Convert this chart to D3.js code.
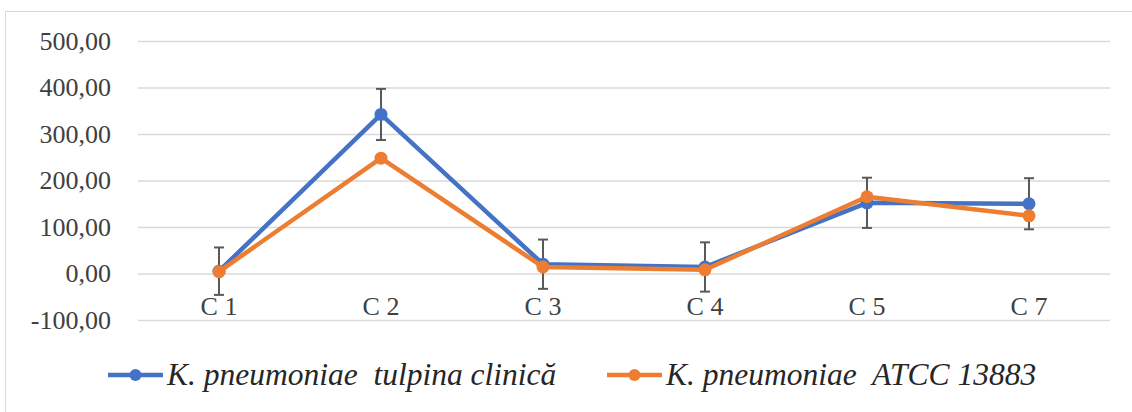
<!DOCTYPE html>
<html>
<head>
<meta charset="utf-8">
<script src="https://cdn.jsdelivr.net/npm/d3@7"></script>
<style>
  html, body { margin: 0; padding: 0; background: #fff; }
  svg { display: block; }
</style>
</head>
<body>
<svg id="chart" width="1132" height="412"></svg>
<script>
// ── Data ──
const categories = ["C 1", "C 2", "C 3", "C 4", "C 5", "C 7"];
const clinical   = [5, 342, 20, 14, 152, 150];     // K. pneumoniae tulpina clinică
const atcc       = [4, 248, 14, 8, 165, 124];      // K. pneumoniae ATCC 13883
const errClinical = [51, 55, 53, 53, 54, 55];
const yTicks = [-100, 0, 100, 200, 300, 400, 500];

const seriesNames = ["K. pneumoniae  tulpina clinică", "K. pneumoniae  ATCC 13883"];
const BLUE = "#4472c4";
const ORANGE = "#ed7d31";
const SERIF = "'Liberation Serif', 'Times New Roman', Times, 'DejaVu Serif', serif";

const LEFT = 138, RIGHT = 1110, TOP = 41, BOTTOM = 320;

const svg = d3.select("#chart");

// frame
svg.append("rect")
  .attr("x", 5.5).attr("y", 11.5)
  .attr("width", 1140).attr("height", 420)
  .attr("fill", "none")
  .attr("stroke", "#d9d9d9")
  .attr("stroke-width", 1);

const x = d3.scaleBand().domain(categories).range([LEFT, RIGHT]);
const y = d3.scaleLinear().domain([-100, 500]).range([BOTTOM, TOP]);

// ── Gridlines ──
svg.append("g")
  .selectAll("line")
  .data(yTicks)
  .join("line")
  .attr("x1", LEFT).attr("x2", RIGHT)
  .attr("y1", d => y(d) + 0.5).attr("y2", d => y(d) + 0.5)
  .attr("stroke", "#d9d9d9")
  .attr("stroke-width", 1.5);

// ── Y tick labels ──
const fmt = d => d.toFixed(2).replace(".", ",");
svg.append("g")
  .selectAll("text")
  .data(yTicks)
  .join("text")
  .attr("font-family", SERIF)
  .attr("font-size", 26)
  .attr("fill", "#404040")
  .attr("x", 111)
  .attr("y", d => y(d))
  .attr("dy", "0.33em")
  .attr("text-anchor", "end")
  .text(fmt);

// ── Category labels (just under the zero line) ──
svg.append("g")
  .selectAll("text")
  .data(categories)
  .join("text")
  .attr("font-family", SERIF)
  .attr("font-size", 26)
  .attr("fill", "#404040")
  .attr("x", d => x(d) + x.bandwidth() / 2)
  .attr("y", y(0) + 41)
  .attr("text-anchor", "middle")
  .text(d => d);

const cx = c => x(c) + x.bandwidth() / 2;
const line = d3.line().x((d, i) => cx(categories[i])).y(d => y(d));

// ── Error bars (clinical series) ──
const eb = svg.append("g").attr("stroke", "#595959").attr("stroke-width", 2);
clinical.forEach((v, i) => {
  const px = cx(categories[i]);
  const e = errClinical[i];
  eb.append("line").attr("x1", px).attr("x2", px).attr("y1", y(v + e)).attr("y2", y(v - e));
  eb.append("line").attr("x1", px - 5).attr("x2", px + 5).attr("y1", y(v + e)).attr("y2", y(v + e));
  eb.append("line").attr("x1", px - 5).attr("x2", px + 5).attr("y1", y(v - e)).attr("y2", y(v - e));
});

// ── Series ──
[[clinical, BLUE], [atcc, ORANGE]].forEach(([vals, color]) => {
  svg.append("path")
    .attr("d", line(vals))
    .attr("fill", "none")
    .attr("stroke", color)
    .attr("stroke-width", 4.5)
    .attr("stroke-linejoin", "round");
  svg.append("g")
    .selectAll("circle")
    .data(vals)
    .join("circle")
    .attr("cx", (d, i) => cx(categories[i]))
    .attr("cy", d => y(d))
    .attr("r", 6.5)
    .attr("fill", color);
});

// ── Legend ──
const legendItems = [
  { name: seriesNames[0], color: BLUE, x0: 108 },
  { name: seriesNames[1], color: ORANGE, x0: 607 }
];
const LY = 375;
legendItems.forEach(item => {
  svg.append("line")
    .attr("x1", item.x0).attr("x2", item.x0 + 55)
    .attr("y1", LY).attr("y2", LY)
    .attr("stroke", item.color).attr("stroke-width", 4.5);
  svg.append("circle")
    .attr("cx", item.x0 + 27.5).attr("cy", LY).attr("r", 6)
    .attr("fill", item.color);
  svg.append("text")
    .attr("font-family", SERIF)
    .attr("font-size", 31.5)
    .attr("font-style", "italic")
    .attr("fill", "#262626")
    .attr("x", item.x0 + 59)
    .attr("y", LY)
    .attr("dy", "0.33em")
    .style("white-space", "pre")
    .text(item.name);
});
</script>
</body>
</html>
